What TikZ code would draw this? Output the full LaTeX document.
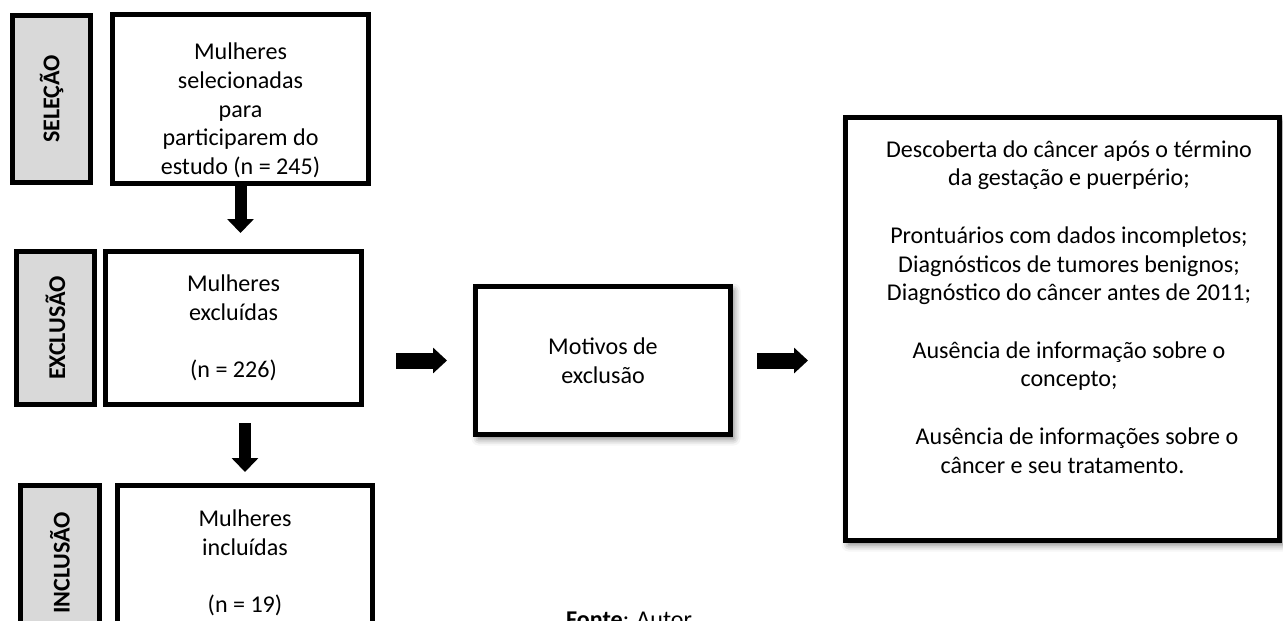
\documentclass[tikz,border=0pt]{standalone}
\usepackage{fontspec}
\setmainfont{Carlito}
\usepackage{tikz}
\usetikzlibrary{arrows.meta, positioning, calc, shadows.blur}
\definecolor{stagegray}{HTML}{D9D9D9}

\begin{document}
\begin{tikzpicture}[
    stagebox/.style={draw=black, line width=0.1cm, fill=stagegray, minimum width=1.56cm,
        font=\fontsize{13.7pt}{16.2pt}\selectfont\bfseries},
    flowbox/.style={draw=black, line width=0.1cm, fill=white, minimum width=5.12cm, align=center,
        font=\fontsize{13.7pt}{16.4pt}\selectfont},
    shadowed/.style={blur shadow={shadow xshift=0.06cm, shadow yshift=-0.08cm,
        shadow blur radius=0.14cm, shadow opacity=55}},
    fatarrow/.style={line width=0.32cm, -{Triangle[length=0.28cm, width=0.5cm]}},
    thinarrow/.style={line width=0.24cm, -{Triangle[length=0.28cm, width=0.52cm]}}
]
    \useasboundingbox (0,0) rectangle (25.66,-12.4);
    % Stage labels
    \node[stagebox, minimum height=3.34cm] (selecao) at (1.03,-1.98) {\rotatebox{90}{SELEÇÃO}};
    \node[stagebox, minimum height=3.06cm] (exclusao) at (1.11,-6.56) {\rotatebox{90}{EXCLUSÃO}};
    \node[stagebox, minimum height=3.10cm, minimum width=1.58cm] (inclusao) at (1.20,-11.26) {\rotatebox{90}{INCLUSÃO}};
    % Main boxes
    \node[flowbox, minimum height=3.34cm] (selecionadas) at (4.81,-1.98)
        {\\[6pt]Mulheres\\selecionadas\\para\\participarem do\\estudo (n = 245)};
    \node[flowbox, minimum height=3.06cm] (excluidas) at (4.67,-6.56)
        {Mulheres\\excluídas\\[16.2pt](n = 226)};
    \node[flowbox, minimum height=3.10cm, minimum width=5.1cm] (incluidas) at (4.90,-11.26)
        {Mulheres\\incluídas\\[16.2pt](n = 19)};
    \node[flowbox, shadowed, minimum height=2.96cm, minimum width=5.1cm] (motivos) at (12.06,-7.21)
        {Motivos de\\exclusão};
    \node[flowbox, shadowed, minimum height=8.46cm, minimum width=8.68cm] (razoes) at (21.25,-6.58)
        {\hspace*{0.26cm}Descoberta do câncer após o término\\\hspace*{0.26cm}da gestação e puerpério;\\[16.2pt]
         \hspace*{0.26cm}Prontuários com dados incompletos;\\\hspace*{0.26cm}Diagnósticos de tumores benignos;\\
         \hspace*{0.26cm}Diagnóstico do câncer antes de 2011;\\[16.2pt]
         \hspace*{0.26cm}Ausência de informação sobre o\\\hspace*{0.26cm}concepto;\\[16.2pt]
         \hspace*{0.58cm}Ausência de informações sobre o\\câncer e seu tratamento.\hspace*{0.18cm}\\[9pt]};
    % Arrows
    \draw[thinarrow, shorten >=0.32cm] (selecionadas.south) -- (selecionadas.south |- excluidas.north);
    \draw[thinarrow, shorten <=0.32cm, shorten >=0.22cm] (incluidas.north |- excluidas.south) -- (incluidas.north);
    \draw[fatarrow, shorten <=0.64cm, shorten >=0.52cm] (motivos.west -| excluidas.east) -- (motivos.west);
    \draw[fatarrow, shorten <=0.48cm, shorten >=0.70cm] (motivos.east) -- (motivos.east -| razoes.west);
    % Source
    \node[anchor=base west, font=\fontsize{13.7pt}{16.2pt}\selectfont] (fonte) at (11.2,-12.55) {\textbf{Fonte}: Autor};
\end{tikzpicture}
\end{document}
